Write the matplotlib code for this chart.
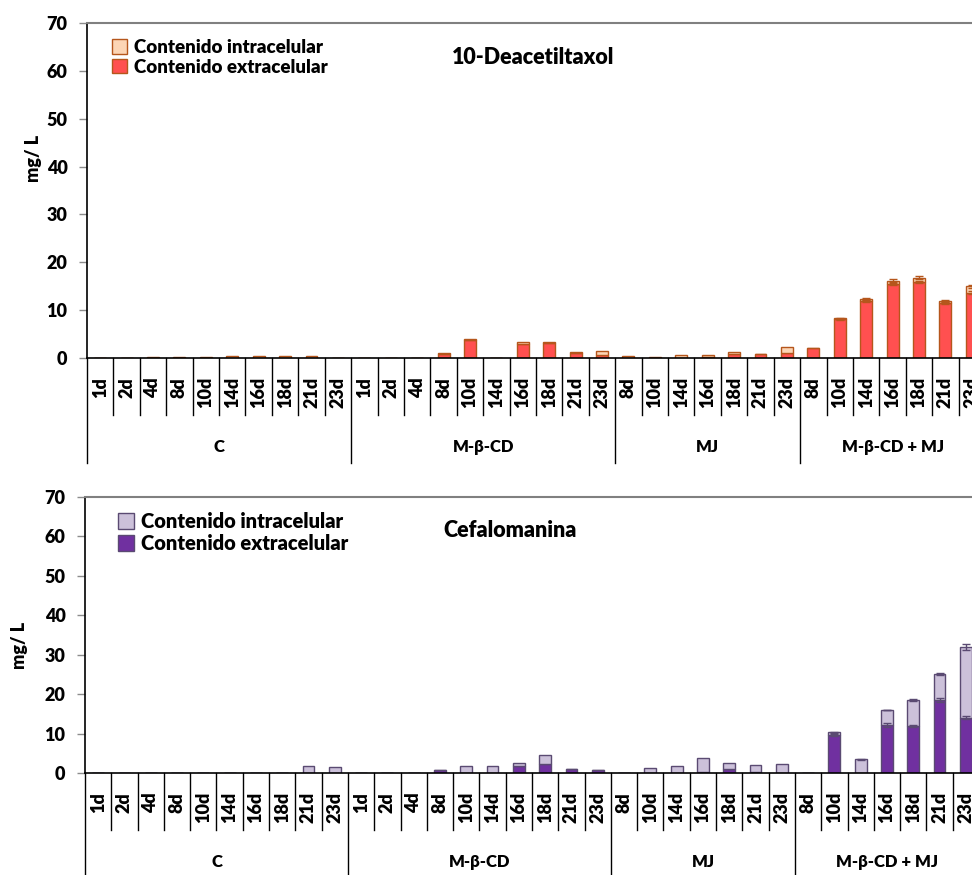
import matplotlib
matplotlib.use("Agg")
import matplotlib.pyplot as plt
import numpy as np
from matplotlib.patches import Patch
from matplotlib.lines import Line2D

plt.rcParams['font.family'] = ['Lato', 'DejaVu Sans']
plt.rcParams['font.weight'] = 'bold'

# Treatment groups and sampling days
groups = ['C', 'M-β-CD', 'MJ', 'M-β-CD + MJ']
days_c = ['1d', '2d', '4d', '8d', '10d', '14d', '16d', '18d', '21d', '23d']
days_mcd = ['1d', '2d', '4d', '8d', '10d', '14d', '16d', '18d', '21d', '23d']
days_mj = ['8d', '10d', '14d', '16d', '18d', '21d', '23d']
days_mix = ['8d', '10d', '14d', '16d', '18d', '21d', '23d']

legend_labels = ['Contenido intracelular', 'Contenido extracelular']

# 10-Deacetiltaxol (mg/L)
dat_extra_c = [0, 0, 0.1, 0.1, 0.1, 0.1, 0.1, 0.1, 0.1, 0]
dat_intra_c = [0, 0.1, 0.2, 0.1, 0.2, 0.4, 0.4, 0.4, 0.4, 0]
dat_extra_mcd = [0, 0, 0, 0.9, 3.8, 0, 2.9, 3.2, 1.1, 0.6]
dat_intra_mcd = [0, 0, 0, 0.1, 0.1, 0.1, 0.4, 0.1, 0.1, 0.9]
dat_extra_mj = [0.1, 0.1, 0.1, 0.3, 0.8, 0.8, 1.0]
dat_intra_mj = [0.3, 0.2, 0.5, 0.3, 0.5, 0.0, 1.4]
dat_extra_mix = [2.0, 8.1, 11.9, 15.5, 15.9, 11.5, 13.6]
dat_intra_mix = [0.1, 0.2, 0.4, 0.6, 0.9, 0.5, 1.4]
dat_err_extra_mix = [0.0, 0.1, 0.2, 0.3, 0.2, 0.2, 0.3]
dat_err_total_mix = [0.0, 0.1, 0.2, 0.4, 0.3, 0.2, 0.3]

# Cefalomanina (mg/L)
cef_extra_c = [0, 0, 0, 0, 0, 0, 0, 0, 0, 0]
cef_intra_c = [0, 0, 0, 0, 0, 0, 0, 0, 1.8, 1.6]
cef_extra_mcd = [0, 0, 0, 0.75, 0.1, 0, 1.8, 2.4, 1.0, 0.75]
cef_intra_mcd = [0, 0, 0, 0, 1.6, 1.7, 0.7, 2.2, 0, 0]
cef_extra_mj = [0, 0.1, 0, 0.2, 0.9, 0.2, 0]
cef_intra_mj = [0, 1.2, 1.9, 3.6, 1.6, 1.8, 2.4]
cef_extra_mix = [0, 9.6, 0, 12.2, 12.0, 18.5, 14.0]
cef_intra_mix = [0, 0.7, 3.5, 3.8, 6.5, 6.6, 17.9]
cef_err_extra_mix = [0, 0.3, 0, 0.6, 0.3, 0.4, 0.4]
cef_err_total_mix = [0, 0.2, 0.1, 0.1, 0.2, 0.2, 0.8]

group_days = [days_c, days_mcd, days_mj, days_mix]

W, H = 972, 875
fig = plt.figure(figsize=(W / 100, H / 100), dpi=100)


def draw_panel(rect, extra, intra, err_extra, err_total, c_extra, c_intra,
               edge, title, title_xy, leg_anchor, leg_size, ylab_xy):
    ax = fig.add_axes(rect)
    labels = [d for g in group_days for d in g]
    n = len(labels)
    x = np.arange(n) + 0.5
    bw = 0.45
    ax.bar(x, extra, bw, color=c_extra, edgecolor=edge, linewidth=1.0, zorder=2)
    ax.bar(x, intra, bw, bottom=extra, color=c_intra, edgecolor=edge,
           linewidth=1.0, zorder=2)
    ex = np.array(extra)
    tot = ex + np.array(intra)
    ee = np.array(err_extra)
    et = np.array(err_total)
    m = ee > 0
    ax.errorbar(x[m], ex[m], yerr=ee[m], fmt='none', ecolor=edge,
                elinewidth=1, capsize=3, capthick=1, zorder=3)
    m = et > 0
    ax.errorbar(x[m], tot[m], yerr=et[m], fmt='none', ecolor=edge,
                elinewidth=1, capsize=3, capthick=1, zorder=3)

    ax.set_xlim(0, n)
    ax.set_ylim(0, 70)
    ax.set_yticks(np.arange(0, 71, 10))
    ax.set_xticks([])
    ax.tick_params(axis='y', direction='out', length=6, width=1,
                   color='#8c8c8c', labelsize=13, pad=8)
    for t in ax.get_yticklabels():
        t.set_fontweight('heavy')
    ax.spines['right'].set_visible(False)
    ax.spines['top'].set_color('#808080')
    ax.spines['top'].set_linewidth(1.5)
    ax.spines['left'].set_linewidth(1.2)
    ax.spines['bottom'].set_linewidth(1.2)

    h_px = rect[3] * H

    def fr(px):
        return -px / h_px

    tr = ax.get_xaxis_transform()
    # category labels and separators
    for i, lab in enumerate(labels):
        ax.text(i + 0.5, fr(19), lab, rotation=90, ha='center', va='top',
                fontsize=13, fontweight='heavy', transform=tr, clip_on=False)
    bounds = np.cumsum([0] + [len(g) for g in group_days])
    for i in range(n + 1):
        depth = 105 if i in bounds else 57
        ax.add_line(Line2D([i, i], [0, fr(depth)], transform=tr, color='black',
                           linewidth=1.0, clip_on=False))
    for gi, g in enumerate(groups):
        cx = (bounds[gi] + bounds[gi + 1]) / 2
        ax.text(cx, fr(89), g, ha='center', va='center', fontsize=12,
                fontweight='heavy', transform=tr, clip_on=False)

    ax.text(title_xy[0], title_xy[1], title, transform=ax.transAxes,
            ha='center', va='center', fontsize=15.5, fontweight='heavy')
    fig.text(ylab_xy[0], ylab_xy[1], 'mg/ L', rotation=90, ha='center',
             va='center', fontsize=13, fontweight='heavy')

    handles = [Patch(facecolor=c_intra, edgecolor=edge, linewidth=1.0),
               Patch(facecolor=c_extra, edgecolor=edge, linewidth=1.0)]
    ax.legend(handles, legend_labels, loc='upper left',
              bbox_to_anchor=leg_anchor, frameon=False, handlelength=0.8,
              handleheight=0.8, handletextpad=0.35, labelspacing=0.15,
              borderaxespad=0, prop={'weight': 'heavy', 'size': leg_size})
    return ax


dat_extra = dat_extra_c + dat_extra_mcd + dat_extra_mj + dat_extra_mix
dat_intra = dat_intra_c + dat_intra_mcd + dat_intra_mj + dat_intra_mix
zeros_a = [0] * (len(days_c) + len(days_mcd) + len(days_mj))
draw_panel([87 / W, (H - 358) / H, 898 / W, 335 / H],
           dat_extra, dat_intra,
           zeros_a + dat_err_extra_mix, zeros_a + dat_err_total_mix,
           '#ff5050', '#fcd5b5', '#b5561c', '10-Deacetiltaxol',
           (0.497, 0.898), (0.020, 0.975), 13.5,
           (33 / W, (H - 158) / H))

cef_extra = cef_extra_c + cef_extra_mcd + cef_extra_mj + cef_extra_mix
cef_intra = cef_intra_c + cef_intra_mcd + cef_intra_mj + cef_intra_mix
draw_panel([85 / W, (H - 773) / H, 894 / W, 276 / H],
           cef_extra, cef_intra,
           zeros_a + cef_err_extra_mix, zeros_a + cef_err_total_mix,
           '#7030a0', '#ccc1da', '#5a4a72', 'Cefalomanina',
           (0.475, 0.880), (0.028, 0.975), 14.5,
           (20 / W, (H - 645) / H))

fig.savefig('out.png', dpi=100)
